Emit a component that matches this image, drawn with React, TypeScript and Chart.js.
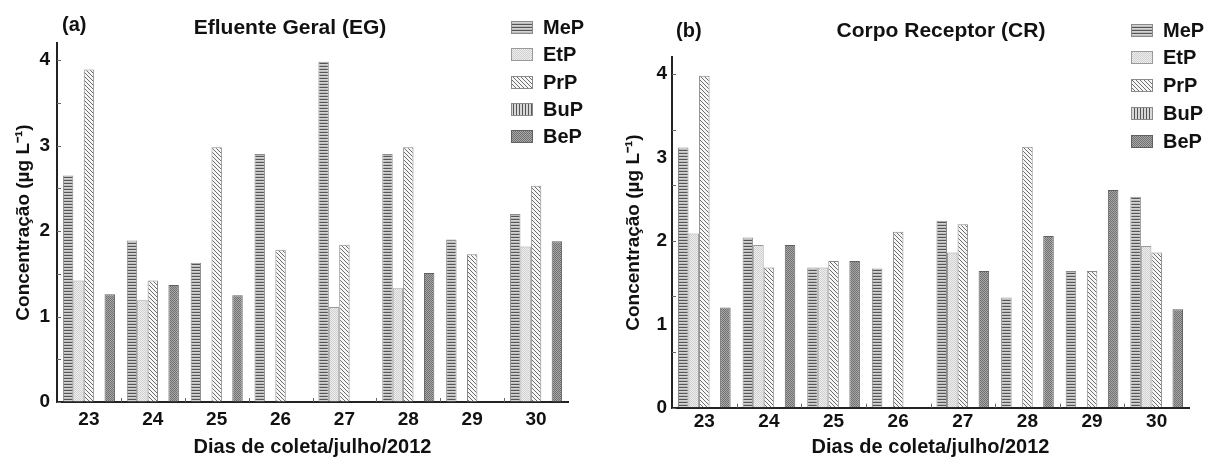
import React, { useEffect, useRef } from 'react';
import { Chart, registerables } from 'chart.js';

Chart.register(...registerables);

// ---------- data ----------
const days = ['23', '24', '25', '26', '27', '28', '29', '30'];
const seriesNames = ['MeP', 'EtP', 'PrP', 'BuP', 'BeP'];

// (a) Efluente Geral (EG)
const egMeP = [2.65, 1.89, 1.63, 2.9, 3.98, 2.9, 1.9, 2.2];
const egEtP = [1.42, 1.19, null, null, 1.11, 1.33, null, 1.82];
const egPrP = [3.89, 1.42, 2.98, 1.78, 1.84, 2.98, 1.73, 2.53];
const egBuP = [null, null, null, null, null, null, null, null];
const egBeP = [1.26, 1.37, 1.25, null, null, 1.51, null, 1.88];

// (b) Corpo Receptor (CR)
const crMeP = [3.12, 2.04, 1.68, 1.67, 2.24, 1.32, 1.64, 2.53];
const crEtP = [2.09, 1.95, 1.68, null, 1.86, null, null, 1.94];
const crPrP = [3.98, 1.68, 1.76, 2.11, 2.2, 3.13, 1.64, 1.86];
const crBuP = [null, null, null, null, null, null, null, null];
const crBeP = [1.2, 1.95, 1.76, null, 1.64, 2.06, 2.61, 1.18];

const yTitle = 'Concentração (µg L⁻¹)';
const xTitle = 'Dias de coleta/julho/2012';

const FONT = '"Liberation Sans", Arial, Helvetica, sans-serif';

// ---------- styles ----------
type Painter = (x: number, y: number) => string;
function makePattern(w: number, h: number, paint: Painter): any {
  const c = document.createElement('canvas');
  c.width = w;
  c.height = h;
  const g = c.getContext('2d');
  if (!g) return '#aaa';
  for (let y = 0; y < h; y++) {
    for (let x = 0; x < w; x++) {
      g.fillStyle = paint(x, y);
      g.fillRect(x, y, 1, 1);
    }
  }
  return g.createPattern(c, 'repeat');
}

function buildPatterns() {
  return [
    makePattern(4, 3, (x, y) => (y === 0 ? '#555555' : y === 1 ? '#d4d4d4' : '#bdbdbd')),
    makePattern(2, 2, (x, y) => ((x + y) % 2 === 0 ? '#cfcfcf' : '#efefef')),
    makePattern(4, 4, (x, y) => (((x - y) % 4 + 4) % 4 === 0 ? '#6c6c6c' : '#f7f7f7')),
    makePattern(3, 4, (x, y) => (x === 0 ? '#555555' : '#d8d8d8')),
    makePattern(2, 2, (x, y) => ((x + y) % 2 === 0 ? '#707070' : '#a8a8a8')),
  ];
}
const borderColors = ['#8a8a8a', '#9a9a9a', '#8a8a8a', '#8a8a8a', '#606060'];

// ---------- plugin: inner tick marks, panel title, legend ----------
const decorPlugin = {
  id: 'decor',
  afterDraw(chart: any, _args: any, o: any) {
    const { ctx, chartArea: a, scales } = chart;
    const xs = scales.x;
    const ys = scales.y;
    ctx.save();
    ctx.strokeStyle = '#666';
    ctx.lineWidth = 1;
    for (let k = 0; k * o.yMinorStep <= ys.max + 1e-6; k++) {
      const py = Math.round(ys.getPixelForValue(k * o.yMinorStep)) + 0.5;
      ctx.beginPath();
      ctx.moveTo(a.left, py);
      ctx.lineTo(a.left + 4, py);
      ctx.stroke();
    }
    for (let i = 1; i < xs.ticks.length; i++) {
      const px = Math.round((xs.getPixelForTick(i - 1) + xs.getPixelForTick(i)) / 2) + 0.5;
      ctx.beginPath();
      ctx.moveTo(px, a.bottom);
      ctx.lineTo(px, a.bottom - 4);
      ctx.stroke();
    }
    ctx.fillStyle = '#111';
    ctx.font = `bold 21px ${FONT}`;
    ctx.textAlign = 'center';
    ctx.textBaseline = 'alphabetic';
    ctx.fillText(o.title, o.titleX, o.titleY);
    ctx.font = `bold 20px ${FONT}`;
    ctx.textAlign = 'left';
    ctx.fillText(o.panel, o.panelX, o.panelY);
    chart.data.datasets.forEach((ds: any, i: number) => {
      const cy = o.legendY + i * o.legendGap;
      const top = Math.round(cy - 6.5);
      ctx.fillStyle = ds.backgroundColor;
      ctx.fillRect(o.legendX, top, 22, 13);
      ctx.strokeStyle = ds.borderColor;
      ctx.strokeRect(o.legendX + 0.5, top + 0.5, 21, 12);
      ctx.fillStyle = '#111';
      ctx.textBaseline = 'middle';
      ctx.font = `bold 20px ${FONT}`;
      ctx.fillText(ds.label, o.legendX + 32, cy + 1);
    });
    ctx.restore();
  },
};

type Spec = {
  panel: string;
  title: string;
  axisWidth: number;
  padTop: number;
  padRight: number;
  xAxisHeight: number;
  yTitleOffset: number;
  xTickPad: number;
  yTickPad: number;
  yMinorStep: number;
  titleX: number;
  titleY: number;
  panelX: number;
  panelY: number;
  legendX: number;
  legendY: number;
  legendGap: number;
};

const leftSpec: Spec = {
  panel: '(a)',
  title: 'Efluente Geral (EG)',
  axisWidth: 57,
  padTop: 43,
  padRight: 32,
  xAxisHeight: 55,
  yTitleOffset: 24,
  xTickPad: 6,
  yTickPad: 7,
  yMinorStep: 0.5,
  titleX: 290,
  titleY: 34,
  panelX: 62,
  panelY: 31,
  legendX: 511,
  legendY: 27.3,
  legendGap: 27.4,
};

const rightSpec: Spec = {
  panel: '(b)',
  title: 'Corpo Receptor (CR)',
  axisWidth: 72,
  padTop: 57.4,
  padRight: 16,
  xAxisHeight: 49.3,
  yTitleOffset: 34,
  xTickPad: 3,
  yTickPad: 5,
  yMinorStep: 2 / 3,
  titleX: 341,
  titleY: 37.3,
  panelX: 76,
  panelY: 36.5,
  legendX: 531,
  legendY: 30,
  legendGap: 27.8,
};

function buildConfig(spec: Spec, series: (number | null)[][], pats: any[]): any {
  return {
    type: 'bar',
    data: {
      labels: days,
      datasets: series.map((d, i) => ({
        label: seriesNames[i],
        data: d,
        backgroundColor: pats[i],
        borderColor: borderColors[i],
        borderWidth: 1,
        categoryPercentage: 0.815,
        barPercentage: 1,
      })),
    },
    options: {
      responsive: false,
      maintainAspectRatio: false,
      animation: false,
      layout: { padding: { top: spec.padTop, right: spec.padRight, left: 0, bottom: 0 } },
      plugins: {
        legend: { display: false },
        title: { display: false },
        tooltip: { enabled: false },
        decor: spec,
      },
      scales: {
        x: {
          offset: true,
          grid: { display: true, drawOnChartArea: false, drawTicks: false, offset: true },
          border: { display: true, color: '#222', width: 2 },
          ticks: {
            font: { family: FONT, size: 19, weight: 'bold' },
            color: '#111',
            padding: spec.xTickPad,
            maxRotation: 0,
            autoSkip: false,
          },
          title: {
            display: true,
            text: xTitle,
            color: '#111',
            font: { family: FONT, size: 20, weight: 'bold', lineHeight: 1 },
            padding: { top: 0, bottom: 0 },
          },
          afterFit: (s: any) => {
            s.height = spec.xAxisHeight;
          },
        },
        y: {
          min: 0,
          max: 4.2,
          ticks: {
            stepSize: 1,
            includeBounds: false,
            font: { family: FONT, size: 19, weight: 'bold' },
            color: '#111',
            padding: spec.yTickPad,
          },
          grid: { display: true, drawOnChartArea: false, drawTicks: false },
          border: { display: true, color: '#222', width: 2 },
          title: {
            display: true,
            text: yTitle,
            color: '#111',
            font: { family: FONT, size: 19, weight: 'bold', lineHeight: 1 },
            padding: { top: spec.yTitleOffset - 9.5, bottom: 0 },
          },
          afterFit: (s: any) => {
            s.width = spec.axisWidth;
          },
        },
      },
    },
    plugins: [decorPlugin],
  };
}

export default function App() {
  const leftRef = useRef<HTMLCanvasElement>(null);
  const rightRef = useRef<HTMLCanvasElement>(null);

  useEffect(() => {
    const pats = buildPatterns();
    const c1 = new Chart(leftRef.current as HTMLCanvasElement, buildConfig(leftSpec, [egMeP, egEtP, egPrP, egBuP, egBeP], pats));
    const c2 = new Chart(rightRef.current as HTMLCanvasElement, buildConfig(rightSpec, [crMeP, crEtP, crPrP, crBuP, crBeP], pats));
    return () => {
      c1.destroy();
      c2.destroy();
    };
  }, []);

  return (
    <div style={{ position: 'absolute', left: 0, top: 0, width: 1205, height: 457, background: '#fff', overflow: 'hidden' }}>
      <canvas ref={leftRef} width={600} height={457} style={{ position: 'absolute', left: 0, top: 0 }} />
      <canvas ref={rightRef} width={605} height={457} style={{ position: 'absolute', left: 600, top: 0 }} />
    </div>
  );
}
